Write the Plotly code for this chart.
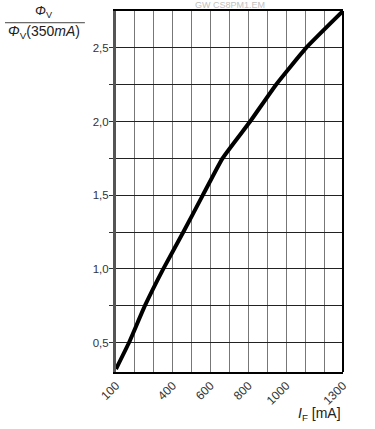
import plotly.graph_objects as go

# Data
current_mA = [100, 169, 253, 350, 456, 559, 663, 809, 946, 1105, 1300]
rel_flux = [0.32, 0.50, 0.75, 1.00, 1.25, 1.50, 1.75, 2.00, 2.25, 2.50, 2.75]

x_grid = list(range(100, 1301, 100))
x_labeled = [100, 400, 600, 800, 1000, 1300]
y_grid = [0.25 * i for i in range(2, 11)]
y_labeled = [0.5, 1.0, 1.5, 2.0, 2.5]

x_text = [str(v) if v in x_labeled else "" for v in x_grid]
y_text = [f"{v:.1f}".replace(".", ",") if v in y_labeled else "" for v in y_grid]

font = "Liberation Sans, Arial, sans-serif"

fig = go.Figure()
fig.add_trace(go.Scatter(
    x=current_mA, y=rel_flux, mode="lines",
    line=dict(color="black", width=4, shape="spline", smoothing=0.4),
    hoverinfo="skip", showlegend=False,
))

fig.update_layout(
    width=375, height=429,
    margin=dict(l=116, r=32, t=11, b=57),
    paper_bgcolor="white", plot_bgcolor="white",
    font=dict(family=font, color="#333", size=11),
    xaxis=dict(
        range=[100, 1300], tickvals=x_grid, ticktext=x_text,
        tickangle=-45, showgrid=True, gridcolor="#777", gridwidth=1,
        showline=True, linecolor="black", linewidth=2, mirror=True,
        ticks="", zeroline=False, tickfont=dict(size=12, color="#333"),
        automargin=False,
    ),
    yaxis=dict(
        range=[0.3, 2.75], tickvals=y_grid, ticktext=y_text,
        showgrid=True, gridcolor="#222", gridwidth=1,
        showline=True, linecolor="#555", linewidth=3,
        ticks="outside", ticklen=4, tickcolor="#333", tickwidth=1,
        ticklabelstandoff=-2,
        zeroline=False, tickfont=dict(size=11.5, color="#333"),
        automargin=False,
    ),
    shapes=[
        dict(type="line", xref="paper", yref="paper", x0=1, x1=1, y0=0, y1=1,
             line=dict(color="black", width=2)),
        dict(type="line", xref="paper", yref="paper", x0=-0.489, x1=-0.137,
             y0=0.9675, y1=0.9675, line=dict(color="#444", width=1)),
    ],
    annotations=[
        dict(text="GW CS8PM1.EM", xref="paper", yref="paper", x=0.5, y=1.0,
             yshift=6, showarrow=False, font=dict(size=9, color="#c0c0c0"),
             xanchor="center", yanchor="middle"),
        dict(text="<i>Φ</i><sub>V</sub>", xref="paper", yref="paper",
             x=-0.315, y=1.0, yshift=0, showarrow=False,
             font=dict(size=13, color="#222"), xanchor="center", yanchor="middle"),
        dict(text="<i>Φ</i><sub>V</sub>(350<i>mA</i>)", xref="paper", yref="paper",
             x=-0.315, y=0.942, showarrow=False,
             font=dict(size=14, color="#222"), xanchor="center", yanchor="middle"),
        dict(text="<i>I</i><sub>F</sub> [mA]", xref="paper", yref="paper",
             x=1.0, y=0, yshift=-42, showarrow=False,
             font=dict(size=14, color="#222"), xanchor="right", yanchor="middle"),
    ],
)

fig.write_html(
    "out.html",
    config={"displayModeBar": False, "staticPlot": True},
    post_script="document.body.style.margin='0';document.body.style.overflow='hidden';",
)
